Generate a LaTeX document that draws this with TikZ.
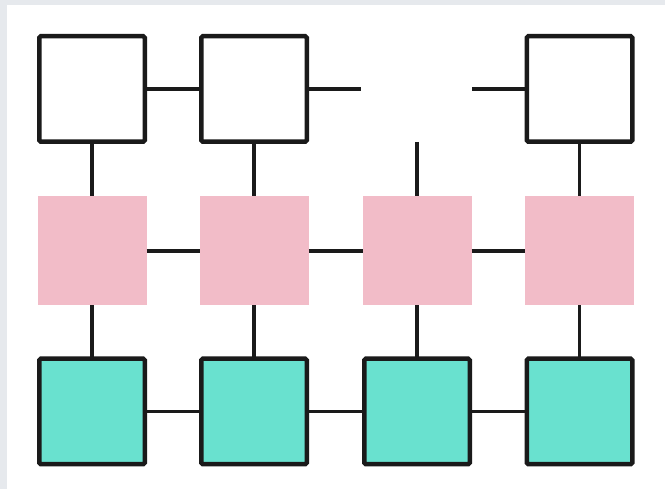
\documentclass[tikz,border=0pt]{standalone}
\definecolor{bggray}{HTML}{E6E9ED}
\definecolor{pinkc}{HTML}{F2BCC8}
\definecolor{tealc}{HTML}{69E1CF}
\definecolor{linec}{HTML}{1A1A1A}
\begin{document}
\begin{tikzpicture}[x=1pt,y=-1pt,
  wbox/.style={draw=linec,line width=4.5pt,rounded corners=1.5pt,fill=white,minimum size=105.5pt,inner sep=0pt,outer sep=0pt},
  pbox/.style={fill=pinkc,minimum size=109pt,inner sep=0pt,outer sep=0pt},
  tbox/.style={draw=linec,line width=4.5pt,rounded corners=1.5pt,fill=tealc,minimum size=105.5pt,inner sep=0pt,outer sep=0pt},
  conn/.style={draw=linec,line width=3.5pt}]
\useasboundingbox (0,0) rectangle (665,489);
\fill[bggray] (0,0) rectangle (665,489);
\fill[white] (7,5) rectangle (665,489);
% top row
\node[wbox] (w1) at (92,89) {};
\node[wbox] (w2) at (254,89) {};
\node[wbox] (w4) at (579.5,89) {};
% middle row
\node[pbox] (p1) at (92,251) {};
\node[pbox] (p2) at (254,251) {};
\node[pbox] (p3) at (417,251) {};
\node[pbox] (p4) at (579.5,251) {};
% bottom row
\node[tbox] (t1) at (92,411.5) {};
\node[tbox] (t2) at (254,411.5) {};
\node[tbox] (t3) at (417,411.5) {};
\node[tbox] (t4) at (579.5,411.5) {};
% stub ends
\coordinate (s2) at (361,89);
\coordinate (s4) at (472,89);
\coordinate (s3) at (417,142);
% connectors
\draw[conn] (w1) -- (w2);
\draw[conn] (w2.east) -- (s2);
\draw[conn] (w4.west) -- (s4);
\draw[conn] (w1) -- (p1);
\draw[conn] (w2) -- (p2);
\draw[conn] (s3) -- (p3.north);
\draw[conn] (w4) -- (p4);
\draw[conn] (p1) -- (p2);
\draw[conn] (p2) -- (p3);
\draw[conn] (p3) -- (p4);
\draw[conn] (p1) -- (t1);
\draw[conn] (p2) -- (t2);
\draw[conn] (p3) -- (t3);
\draw[conn] (p4) -- (t4);
\draw[conn] (t1) -- (t2);
\draw[conn] (t2) -- (t3);
\draw[conn] (t3) -- (t4);
\end{tikzpicture}
\end{document}
